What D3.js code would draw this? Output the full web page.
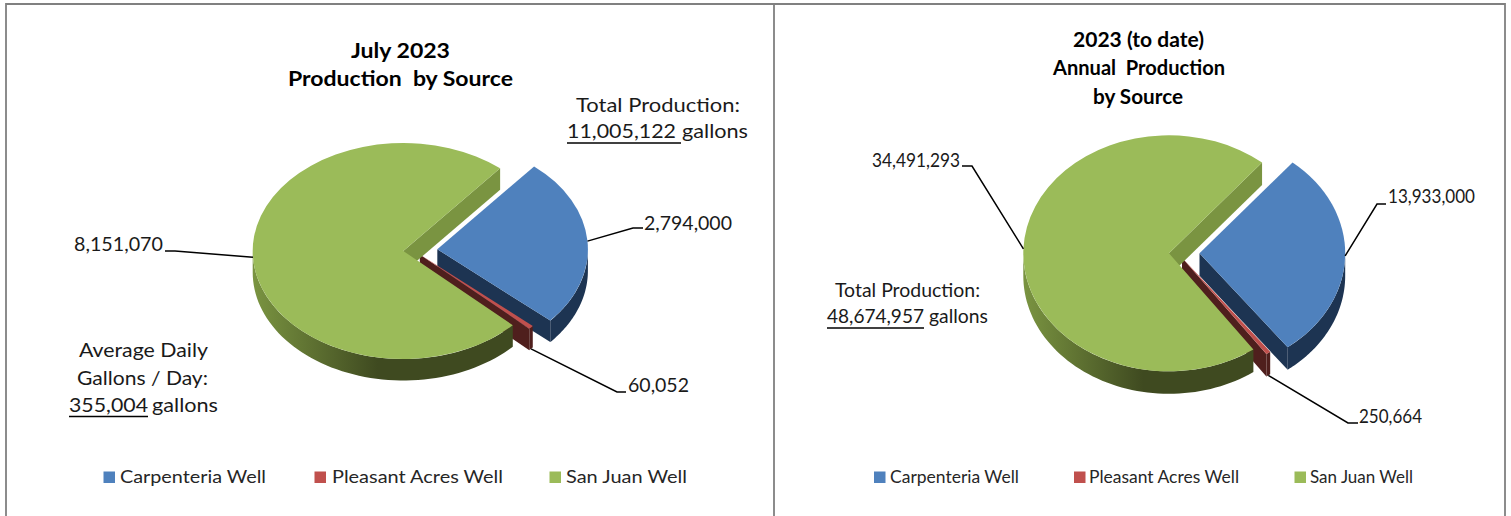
<!DOCTYPE html>
<html>
<head>
<meta charset="utf-8">
<script src="https://cdn.jsdelivr.net/npm/d3@7"></script>
<style>
  html, body { margin: 0; padding: 0; background: #fff; }
  svg { display: block; }
  text { font-family: Lato, "Open Sans", sans-serif; }
</style>
</head>
<body>
<svg id="chart" width="1511" height="516"></svg>
<script>
// Well production figures, in gallons
const categories = ["Carpenteria Well", "Pleasant Acres Well", "San Juan Well"];
const julyValues = [2794000, 60052, 8151070];
const annualValues = [13933000, 250664, 34491293];
const julyTitle = ["July 2023", "Production  by Source"];
const annualTitle = ["2023 (to date)", "Annual  Production", "by Source"];
const julyTotal = 11005122;
const annualTotal = 48674957;
const julyDailyAverage = 355004;

const topColors = ["#4f81bd", "#c0504d", "#9bbb59"];
const wallColors = ["#1d3452", "#4f1f1d", "#3f4a20"];
const endFaceColors = ["#1d3452", "#4f1f1d", "#7a9441"];

const svg = d3.select("#chart");
const defs = svg.append("defs");
const fmt = d3.format(",");
const deg = Math.PI / 180;

// Places a string so that it spans x0..x1 with its baseline at y
function put(str, x0, x1, y, o = {}) {
  return svg.append("text")
    .attr("x", x0).attr("y", y)
    .attr("textLength", x1 - x0)
    .attr("lengthAdjust", "spacingAndGlyphs")
    .attr("font-size", o.size || 19)
    .attr("font-weight", o.bold ? 700 : 400)
    .attr("fill", o.bold ? "#000" : (o.fill || "#1a1a1a"))
    .style("white-space", "pre")
    .text(str);
}

function rule(x0, x1, y) {
  svg.append("line").attr("x1", x0).attr("x2", x1).attr("y1", y).attr("y2", y)
    .attr("stroke", "#000").attr("stroke-width", 1.6);
}

// Extruded, exploded pie seen from above
function drawPie(cfg, values) {
  const { cx, cy, rx, ry, depth, rotation, offsets, id } = cfg;
  const squash = ry / rx;
  const pie = d3.pie().sort(null)
    .startAngle(rotation * deg).endAngle(rotation * deg + 2 * Math.PI);
  const slices = pie(values);
  const arc = d3.arc().innerRadius(0).outerRadius(rx);
  const g = svg.append("g");

  const grad = defs.append("linearGradient").attr("id", id)
    .attr("gradientUnits", "userSpaceOnUse")
    .attr("x1", cx - rx).attr("x2", cx - rx + cfg.shadeWidth).attr("y1", 0).attr("y2", 0);
  grad.append("stop").attr("offset", 0).attr("stop-color", "#7a9441");
  grad.append("stop").attr("offset", 1).attr("stop-color", "#3f4a20");

  const rim = (t, i, drop = 0) => [
    cx + offsets[i][0] + rx * Math.sin(t),
    cy + offsets[i][1] - ry * Math.cos(t) + drop
  ];
  const apex = (i, drop = 0) => [cx + offsets[i][0], cy + offsets[i][1] + drop];
  const line = d3.line();

  slices.forEach((s, i) => {
    // radial cut face turned towards the viewer
    [s.startAngle, s.endAngle].forEach((t, k) => {
      const visible = k === 1 ? Math.sin(t) > 0 : Math.sin(t) < 0;
      if (!visible) return;
      g.append("path")
        .attr("d", line([apex(i), rim(t, i), rim(t, i, depth), apex(i, depth)]) + "Z")
        .attr("fill", endFaceColors[i]);
    });
    // outer wall on the front half of the ellipse
    const a0 = Math.max(s.startAngle, Math.PI / 2);
    const a1 = Math.min(s.endAngle, 3 * Math.PI / 2);
    if (a1 > a0) {
      const ts = d3.range(0, 61).map(n => a0 + (a1 - a0) * n / 60);
      const pts = ts.map(t => rim(t, i)).concat(ts.slice().reverse().map(t => rim(t, i, depth)));
      g.append("path").attr("d", line(pts) + "Z")
        .attr("fill", i === 2 ? `url(#${id})` : wallColors[i]);
    }
    // top surface
    g.append("path")
      .attr("d", arc(s))
      .attr("transform", `translate(${cx + offsets[i][0]},${cy + offsets[i][1]}) scale(1,${squash})`)
      .attr("fill", topColors[i]);
  });

  // leader lines running from each slice to its value label
  slices.forEach((s, i) => {
    const mid = (s.startAngle + s.endAngle) / 2;
    const from = rim(mid, i, i === 1 ? depth : 0);
    const [ex, ey, lx] = cfg.leaders[i];
    svg.append("path")
      .attr("d", line([from, [ex, ey], [lx, ey]]))
      .attr("fill", "none").attr("stroke", "#000").attr("stroke-width", 1.5);
    const [x0, x1, y] = cfg.labels[i];
    put(fmt(values[i]), x0, x1, y);
  });
}

// Frame around the two panels
const frame = d3.path();
frame.moveTo(6, 516); frame.lineTo(6, 4); frame.lineTo(1505, 4); frame.lineTo(1505, 516);
frame.moveTo(774, 4); frame.lineTo(774, 516);
svg.append("path").attr("d", frame.toString()).attr("fill", "none")
  .attr("stroke", "#808080").attr("stroke-width", 1.8);

drawPie({
  id: "julyWall", cx: 403.3, cy: 251, rx: 150.6, ry: 108, depth: 21.5, rotation: 40,
  shadeWidth: 125,
  offsets: [[34, -1.8], [16.5, 3.5], [0, 0]],
  leaders: [[633, 228, 643], [617, 392, 626], [175, 251, 165]],
  labels: [[644, 732, 230], [628, 689, 392], [74, 163, 251]]
}, julyValues);

drawPie({
  id: "annualWall", cx: 1169, cy: 253.3, rx: 145.7, ry: 118, depth: 22.5, rotation: 39.7,
  shadeWidth: 120,
  offsets: [[30.5, 0], [13, 4.5], [0, 0]],
  leaders: [[1377, 204, 1386], [1348, 423, 1358], [972, 166, 962]],
  labels: [[1388, 1475, 203], [1359, 1422, 423], [872, 960, 167]]
}, annualValues);

// Titles
put(julyTitle[0], 351, 450, 57.5, { bold: true, size: 20 });
put(julyTitle[1], 288, 513, 85.5, { bold: true, size: 20 });
put(annualTitle[0], 1073, 1204, 46.5, { bold: true, size: 20 });
put(annualTitle[1], 1053, 1225, 74.5, { bold: true, size: 20 });
put(annualTitle[2], 1093, 1183, 103.5, { bold: true, size: 20 });

// Production notes
put("Total Production:", 576, 740, 112);
put(fmt(julyTotal), 567, 676, 138);
put("gallons", 682, 748, 138);
rule(567, 681, 143);

put("Average Daily", 79, 208, 357);
put("Gallons / Day:", 77, 208, 385);
put(fmt(julyDailyAverage), 69, 148, 412);
put("gallons", 152, 218, 412);
rule(69, 148, 416.5);

put("Total Production:", 835, 980, 297);
put(fmt(annualTotal), 827, 924, 323);
put("gallons", 929, 988, 323);
rule(827, 924, 328);

// Legends
function legend(items) {
  items.forEach(([sx, tx0, tx1], i) => {
    svg.append("rect").attr("x", sx).attr("y", 471.5).attr("width", 11.5).attr("height", 11.5)
      .attr("fill", topColors[i]);
    put(categories[i], tx0, tx1, 483, { size: 18, fill: "#262626" });
  });
}
legend([[103.5, 120, 266], [314.5, 332, 503], [549.5, 566, 687]]);
legend([[874, 890, 1019], [1074, 1089, 1239], [1294.5, 1310, 1413]]);
</script>
</body>
</html>
